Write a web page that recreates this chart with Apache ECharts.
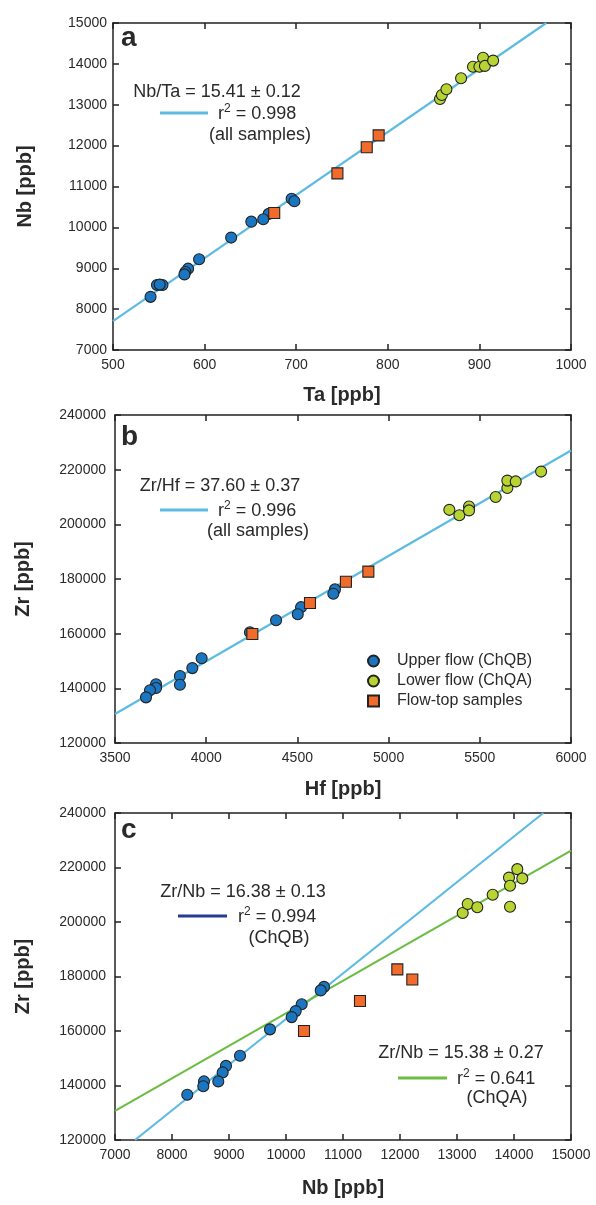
<!DOCTYPE html>
<html>
<head>
<meta charset="utf-8">
<script src="https://cdn.jsdelivr.net/npm/echarts@6/dist/echarts.min.js"></script>
<style>html,body{margin:0;padding:0;background:#fff;}#c{width:596px;height:1205px;}</style>
</head>
<body>
<div id="c"></div>
<script>
// ---- Panel a: Ta vs Nb ----
const aUpper = [[695,10700],[698,10640],[670,10330],[664,10200],[651,10140],[629,9750],[594,9220],[582,8990],[579,8910],[578,8850],[554,8590],[548,8590],[551,8600],[541,8300]];
const aLower = [[857,13140],[859,13240],[864,13380],[880,13650],[893,13930],[900,13930],[904,14150],[906,13950],[915,14080]];
const aTop = [[790,12250],[777,11960],[745,11320],[676,10350]];
const aFit = [[500,7705],[973,15000]];
// ---- Panel b: Hf vs Zr ----
const bUpper = [[4706,176200],[4697,174600],[4520,169700],[4502,167100],[4383,164900],[4240,160500],[3975,151000],[3924,147400],[3856,144500],[3856,141300],[3725,141500],[3725,140100],[3692,139300],[3670,136700]];
const bLower = [[5333,205300],[5388,203300],[5441,206500],[5441,205100],[5587,210000],[5651,213300],[5651,216000],[5697,215700],[5836,219300]];
const bTop = [[4889,182700],[4766,179000],[4569,171200],[4253,159900]];
const bFit = [[3500,130600],[6000,227000]];
// ---- Panel c: Nb vs Zr ----
const cUpper = [[10667,176200],[10609,174900],[10275,169800],[10170,167300],[10100,165100],[9719,160600],[9193,150900],[8947,147200],[8889,144800],[8812,141500],[8561,141500],[8549,139700],[8268,136600]];
const cLower = [[13100,203300],[13188,206600],[13356,205400],[13626,210000],[13912,216300],[13930,213300],[13930,205600],[14058,219400],[14146,216000]];
const cTop = [[11953,182600],[12216,178900],[11298,171000],[10316,160000]];
const cFitB = [[7351,120000],[14514,240000]];
const cFitA = [[7000,130700],[15000,226200]];

const seriesNames = ['Upper flow (ChQB)','Lower flow (ChQA)','Flow-top samples'];
const panelLetters = ['a','b','c'];
const xTitles = ['Ta [ppb]','Hf [ppb]','Nb [ppb]'];
const yTitles = ['Nb [ppb]','Zr [ppb]','Zr [ppb]'];
const fitTexts = [
  ['Nb/Ta = 15.41 \u00b1 0.12','0.998','(all samples)'],
  ['Zr/Hf = 37.60 \u00b1 0.37','0.996','(all samples)'],
  ['Zr/Nb = 16.38 \u00b1 0.13','0.994','(ChQB)'],
  ['Zr/Nb = 15.38 \u00b1 0.27','0.641','(ChQA)']
];

const C_BLUE='#1b76c2', C_GREEN='#b8d432', C_ORANGE='#f06b2c', C_FIT='#5dbbe3', C_FITG='#6dbd45', C_DARK='#253b96';
const TXT='#2a2a2a', FONT='"Liberation Sans", Arial, sans-serif';

const grids = [
  {left:113, top:23, width:458, height:327},
  {left:115, top:415, width:456, height:328},
  {left:115, top:813, width:456, height:327}
];
const xr = [[500,1000,100],[3500,6000,500],[7000,15000,1000]];
const yr = [[7000,15000,1000],[120000,240000,20000],[120000,240000,20000]];
const xNameGap = [35,36,38];
const yNameGap = [78,82,82];
const yLabelMargin = [6,9,9];
const plain = v => String(v);

const xAxis=[], yAxis=[];
const lineStyle = {color:'#222', width:1.5};
grids.forEach((g,i)=>{
  xAxis.push({type:'value', gridIndex:i, position:'bottom', min:xr[i][0], max:xr[i][1], interval:xr[i][2],
    name:xTitles[i], nameLocation:'middle', nameGap:xNameGap[i],
    nameTextStyle:{fontFamily:FONT, fontWeight:'bold', fontSize:20, color:TXT},
    axisLine:{show:true, onZero:false, lineStyle}, axisTick:{show:true, inside:true, length:6, lineStyle},
    axisLabel:{fontFamily:FONT, fontSize:14, color:TXT, margin:8, showMinLabel:true, showMaxLabel:true, formatter:plain},
    splitLine:{show:false}});
  xAxis.push({type:'value', gridIndex:i, position:'top', min:xr[i][0], max:xr[i][1], interval:xr[i][2],
    axisLine:{show:true, onZero:false, lineStyle}, axisTick:{show:true, inside:true, length:6, lineStyle},
    axisLabel:{show:false}, splitLine:{show:false}});
  yAxis.push({type:'value', gridIndex:i, position:'left', min:yr[i][0], max:yr[i][1], interval:yr[i][2],
    name:yTitles[i], nameLocation:'middle', nameGap:yNameGap[i],
    nameTextStyle:{fontFamily:FONT, fontWeight:'bold', fontSize:20, color:TXT},
    axisLine:{show:true, onZero:false, lineStyle}, axisTick:{show:true, inside:true, length:6, lineStyle},
    axisLabel:{fontFamily:FONT, fontSize:14, color:TXT, margin:yLabelMargin[i], showMinLabel:true, showMaxLabel:true, formatter:plain},
    splitLine:{show:false}});
  yAxis.push({type:'value', gridIndex:i, position:'right', min:yr[i][0], max:yr[i][1], interval:yr[i][2],
    axisLine:{show:true, onZero:false, lineStyle}, axisTick:{show:true, inside:true, length:6, lineStyle},
    axisLabel:{show:false}, splitLine:{show:false}});
});

function fitLine(data, gi, color){
  return {type:'line', xAxisIndex:gi*2, yAxisIndex:gi*2, data, symbol:'none', clip:true,
    lineStyle:{color, width:2.2}, z:2, silent:true, legendHoverLink:false};
}
function pts(data, gi, k){
  const colors=[C_BLUE,C_GREEN,C_ORANGE];
  return {type:'scatter', name:seriesNames[k], xAxisIndex:gi*2, yAxisIndex:gi*2, data,
    symbol: k===2?'rect':'circle', symbolSize: 11,
    itemStyle:{color:colors[k], borderColor:'#222', borderWidth:1.1, opacity:1}, z:3};
}

const series = [
  fitLine(aFit,0,C_FIT), pts(aUpper,0,0), pts(aLower,0,1), pts(aTop,0,2),
  fitLine(bFit,1,C_FIT), pts(bUpper,1,0), pts(bLower,1,1), pts(bTop,1,2),
  fitLine(cFitB,2,C_FIT), fitLine(cFitA,2,C_FITG), pts(cUpper,2,0), pts(cLower,2,1), pts(cTop,2,2)
];

// annotation blocks: [textCenterX, titleY, lineX1, lineX2, lineY, r2Left, thirdCenterX, thirdY, color]
const annot = [
  [217, 92, 160, 208, 113, 218, 260, 135, C_FIT],
  [220, 486, 160, 208, 510, 218, 258, 531, C_FIT],
  [243, 892, 178, 227, 916, 238, 279, 938, C_DARK],
  [461, 1053, 398, 447, 1078, 457, 497, 1098, C_FITG]
];
const graphic = [];
annot.forEach((a,i)=>{
  const t = fitTexts[i];
  graphic.push({type:'text', x:a[0], y:a[1], style:{text:t[0], font:'18px '+FONT, fill:TXT, textAlign:'center', textVerticalAlign:'middle'}});
  graphic.push({type:'line', shape:{x1:a[2], y1:a[4], x2:a[3], y2:a[4]}, style:{stroke:a[8], lineWidth:3}});
  graphic.push({type:'text', x:a[5], y:a[4], style:{
    text:'{r|r}{s|2}{r| = '+t[1]+'}', textVerticalAlign:'middle', textAlign:'left',
    rich:{r:{fontFamily:FONT, fontSize:18, fill:TXT, color:TXT, lineHeight:21, verticalAlign:'bottom'},
          s:{fontFamily:FONT, fontSize:12, fill:TXT, color:TXT, lineHeight:21, verticalAlign:'top'}}}});
  graphic.push({type:'text', x:a[6], y:a[7], style:{text:t[2], font:'18px '+FONT, fill:TXT, textAlign:'center', textVerticalAlign:'middle'}});
});
const letterY = [38, 437, 830];
panelLetters.forEach((L,i)=>{
  graphic.push({type:'text', x:121, y:letterY[i], style:{text:L, font:'bold 28px '+FONT, fill:TXT, textVerticalAlign:'middle'}});
});

const chart = echarts.init(document.getElementById('c'), null, {renderer:'canvas'});
chart.setOption({
  animation:false,
  backgroundColor:'#fff',
  grid: grids,
  xAxis, yAxis,
  legend:{data:seriesNames, orient:'vertical', left:362, top:648, itemWidth:11, itemHeight:11, itemGap:4,
    textStyle:{fontFamily:FONT, fontSize:16, color:TXT, padding:[0,0,0,13]}},
  series,
  graphic
});
</script>
</body>
</html>
